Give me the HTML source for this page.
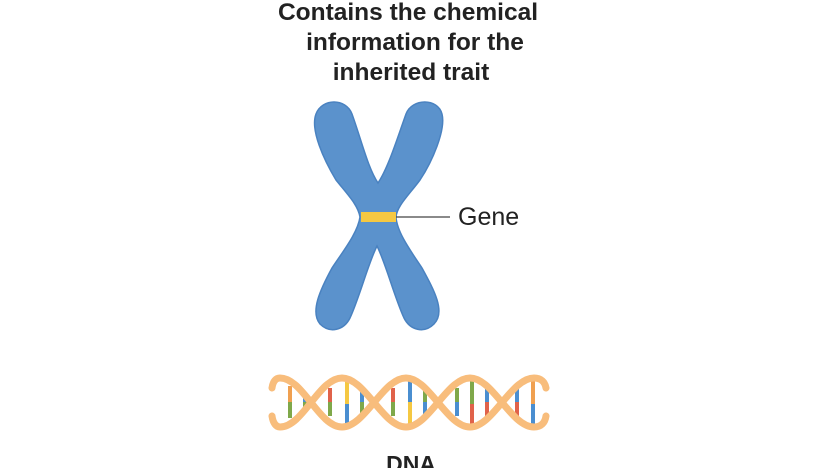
<!DOCTYPE html>
<html><head><meta charset="utf-8"><style>
html,body{margin:0;padding:0;background:#fff}
body{width:832px;height:468px;overflow:hidden;position:relative;font-family:"Liberation Sans",sans-serif;color:#222}
.t{position:absolute;left:208px;width:400px;text-align:center;font-weight:bold;font-size:24.5px;line-height:30px;top:-2px}
</style></head><body>
<div class="t">Contains the chemical<br><span style="position:relative;left:7px">information for the</span><br><span style="position:relative;left:3px">inherited trait</span></div>
<svg width="832" height="468" style="position:absolute;left:0;top:0">
<path d="M316,114 C322,98 346,98 352,114 C362,142 368,168 378,183 C388,168 396,142 406,114 C412,98 438,98 442,114 C446,130 432,162 420,180 C408,196 397,206 396,217 C397,232 410,250 422,268 C434,290 446,312 434,324 C424,334 410,330 404,318 C394,296 386,264 377,246 C368,264 360,296 350,318 C344,330 330,334 320,324 C310,312 320,290 332,268 C344,250 358,232 360,217 C358,205 348,195 336,180 C324,160 310,130 316,114 Z" fill="#5b92cc" stroke="#4a82c0" stroke-width="1.5"/>
<rect x="361" y="212" width="35" height="10" fill="#f5c842"/>
<line x1="396" y1="217" x2="450" y2="217" stroke="#444" stroke-width="1.3"/>
<text x="458" y="225" font-size="25" font-family="Liberation Sans" fill="#222">Gene</text>
<g stroke-width="4">
<line x1="290" y1="386" x2="290" y2="402" stroke="#f0a050"/><line x1="290" y1="402" x2="290" y2="418" stroke="#7fa84a"/>
<line x1="305" y1="392" x2="305" y2="402" stroke="#4a8ed0"/><line x1="305" y1="402" x2="305" y2="412" stroke="#7fa84a"/>
<line x1="330" y1="388" x2="330" y2="402" stroke="#e0624a"/><line x1="330" y1="402" x2="330" y2="416" stroke="#7fa84a"/>
<line x1="347" y1="380" x2="347" y2="404" stroke="#f5c842"/><line x1="347" y1="404" x2="347" y2="426" stroke="#4a8ed0"/>
<line x1="362" y1="388" x2="362" y2="402" stroke="#4a8ed0"/><line x1="362" y1="402" x2="362" y2="416" stroke="#7fa84a"/>
<line x1="393" y1="388" x2="393" y2="402" stroke="#e0624a"/><line x1="393" y1="402" x2="393" y2="416" stroke="#7fa84a"/>
<line x1="410" y1="380" x2="410" y2="402" stroke="#4a8ed0"/><line x1="410" y1="402" x2="410" y2="426" stroke="#f5c842"/>
<line x1="425" y1="388" x2="425" y2="402" stroke="#7fa84a"/><line x1="425" y1="402" x2="425" y2="416" stroke="#4a8ed0"/>
<line x1="457" y1="388" x2="457" y2="402" stroke="#7fa84a"/><line x1="457" y1="402" x2="457" y2="416" stroke="#4a8ed0"/>
<line x1="472" y1="380" x2="472" y2="404" stroke="#7fa84a"/><line x1="472" y1="404" x2="472" y2="426" stroke="#e0624a"/>
<line x1="487" y1="388" x2="487" y2="402" stroke="#4a8ed0"/><line x1="487" y1="402" x2="487" y2="416" stroke="#e0624a"/>
<line x1="517" y1="388" x2="517" y2="402" stroke="#4a8ed0"/><line x1="517" y1="402" x2="517" y2="416" stroke="#e0624a"/>
<line x1="533" y1="380" x2="533" y2="404" stroke="#f0a050"/><line x1="533" y1="404" x2="533" y2="426" stroke="#4a8ed0"/>
</g>
<g fill="none" stroke="#f8bd7c" stroke-width="7" stroke-linecap="round">
<path d="M272,388 C273,381 276,378 280,378 C303,378 319,427 342,427 C365,427 383,378 406,378 C429,378 447,427 470,427 C493,427 511,378 534,378 C541,378 545,382 546,388"/>
<path d="M272,416 C273,423 276,427 280,427 C303,427 319,378 342,378 C365,378 383,427 406,427 C429,427 447,378 470,378 C493,378 511,427 534,427 C541,427 545,423 546,416"/>
</g>
<text x="411" y="472" text-anchor="middle" font-size="23" font-weight="bold" font-family="Liberation Sans" fill="#222">DNA</text>
</svg>
</body></html>
